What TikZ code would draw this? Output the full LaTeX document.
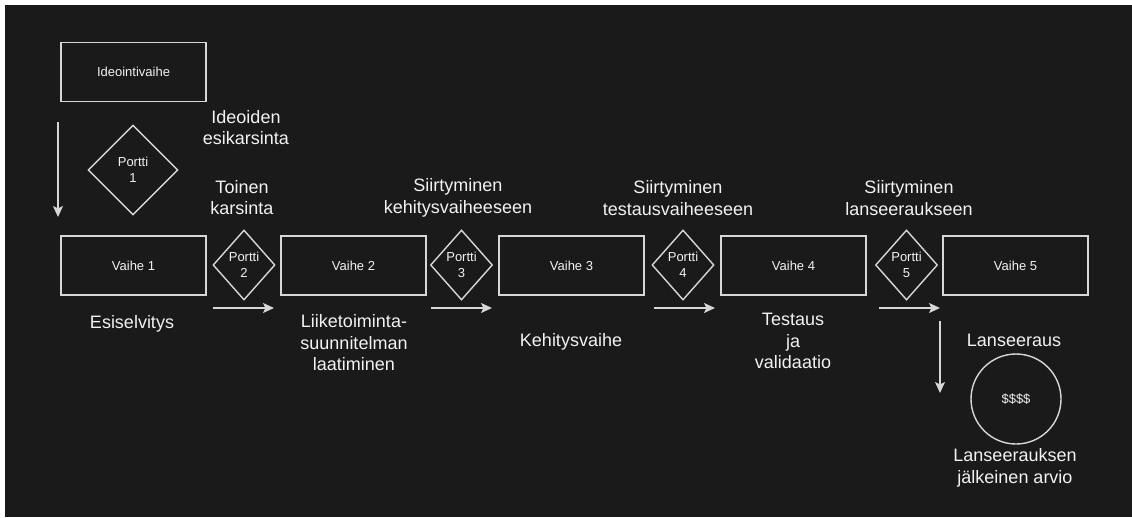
\documentclass[tikz,border=0pt]{standalone}
\usepackage{fontspec}
\setmainfont{Liberation Sans}
\usetikzlibrary{shapes.geometric, arrows.meta, positioning}
\definecolor{bgdark}{RGB}{26,26,26}
\definecolor{linegrey}{RGB}{215,215,215}
\definecolor{textwhite}{RGB}{242,242,242}
\newcommand{\smalltxt}{\fontsize{13}{16}\selectfont}
\newcommand{\bigtxt}{\fontsize{18}{21.5}\selectfont}
\tikzset{
  stage/.style={
    draw=linegrey,
    rectangle,
    line width=1.4pt,
    minimum width=145pt,
    minimum height=59pt,
    inner sep=0pt,
    align=center,
    font=\smalltxt,
    text=textwhite,
  },
  gate/.style={
    diamond,
    draw=linegrey,
    line width=1.4pt,
    minimum width=62pt,
    minimum height=70pt,
    inner sep=0pt,
    align=center,
    font=\smalltxt,
    text=textwhite,
  },
  note/.style={
    align=center,
    inner sep=0pt,
    font=\bigtxt,
    text=textwhite,
  },
  flow/.style={
    -{Stealth[length=11pt, width=10pt, inset=2.5pt]},
    draw=linegrey,
    line width=1.3pt
  }
}

\begin{document}
\begin{tikzpicture}[x=1pt, y=-1pt]

% --- Tausta ---
\useasboundingbox (0,0) rectangle (1132,517);
\fill[white] (0,0) rectangle (1132,517);
\fill[bgdark] (5,5) rectangle (1132,517);

% --- Ideointi ja portti 1 ---
\node[stage] (idea) at (133.5,72) {Ideointivaihe};
\node[gate, minimum width=90pt, minimum height=90pt] (p1) at (133,170) {Portti\\1};

% --- Vaiheet ---
\node[stage] (v1) at (133.5,265.5) {Vaihe 1};
\node[stage] (v2) at (353.5,265.5) {Vaihe 2};
\node[stage] (v3) at (571.5,265.5) {Vaihe 3};
\node[stage] (v4) at (793.5,265.5) {Vaihe 4};
\node[stage] (v5) at (1015.5,265.5) {Vaihe 5};

% --- Portit ---
\node[gate] (p2) at (244,265) {Portti\\2};
\node[gate] (p3) at (461.5,265) {Portti\\3};
\node[gate] (p4) at (683,265) {Portti\\4};
\node[gate] (p5) at (906.5,265) {Portti\\5};

% --- Lanseeraus ---
\node[circle, draw=linegrey, line width=1.4pt, minimum size=90pt, inner sep=0pt,
      font=\smalltxt, text=textwhite] (cash) at (1016,399) {\$\$\$\$};

% --- Tekstit porttien yllä ---
\node[note] (t1) at (246,127.5) {Ideoiden\\esikarsinta};
\node[note] (t2) at (242,197.5) {Toinen\\karsinta};
\node[note] (t3) at (458,198) {Siirtyminen\\kehitysvaiheeseen};
\node[note] (t4) at (678,198) {Siirtyminen\\testausvaiheeseen};
\node[note] (t5) at (909,198) {Siirtyminen\\lanseeraukseen};

% --- Tekstit vaiheiden alla ---
\node[note] (d1) at (132,324) {Esiselvitys};
\node[note] (d2) at (354,343) {Liiketoiminta-\\suunnitelman\\laatiminen};
\node[note] (d3) at (571,342) {Kehitysvaihe};
\node[note] (d4) at (793,341) {Testaus\\ja\\validaatio};
\node[note] (d5) at (1014,340) {Lanseeraus};
\node[note] (d6) at (1015,468) {Lanseerauksen\\jälkeinen arvio};

% --- Nuolet ---
\coordinate (a1s) at (58,122);  \coordinate (a1e) at (58,217);
\coordinate (a2s) at (213,308); \coordinate (a2e) at (274,308);
\coordinate (a3s) at (431,308); \coordinate (a3e) at (492,308);
\coordinate (a4s) at (654,308); \coordinate (a4e) at (715,308);
\coordinate (a5s) at (879,308); \coordinate (a5e) at (940,308);
\coordinate (a6s) at (940,321); \coordinate (a6e) at (940,393);

\draw[flow] (a1s) -- (a1e);
\draw[flow] (a2s) -- (a2e);
\draw[flow] (a3s) -- (a3e);
\draw[flow] (a4s) -- (a4e);
\draw[flow] (a5s) -- (a5e);
\draw[flow] (a6s) -- (a6e);

\end{tikzpicture}
\end{document}
